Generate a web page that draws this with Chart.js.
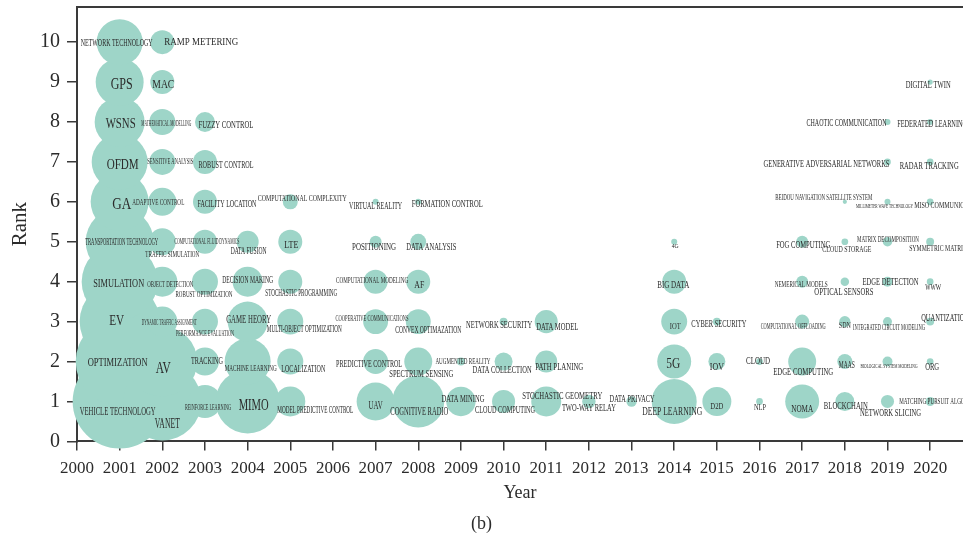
<!DOCTYPE html>
<html>
<head>
<meta charset="utf-8">
<script src="https://cdn.jsdelivr.net/npm/chart.js@4.4.1/dist/chart.umd.min.js"></script>
<style>
  html, body { margin: 0; padding: 0; background: #fff; }
  #wrap { width: 963px; height: 546px; }
</style>
</head>
<body>
<div id="wrap"><canvas id="grafica" width="963" height="546"></canvas></div>
<script>
// keyword, year, rank (1 = lowest row) and occurrence count
const keywords = [
  'VEHICLE TECHNOLOGY', 'OPTIMIZATION', 'EV', 'SIMULATION', 'TRANSPORTATION TECHNOLOGY', 'GA', 'OFDM', 'WSNS', 'GPS', 'NETWORK TECHNOLOGY',
  'VANET', 'AV', 'DYNAMIC TRAFFIC ASSIGNMENT', 'OBJECT DETECTION', 'TRAFFIC SIMULATION', 'ADAPTIVE CONTROL', 'SENSITIVE ANALYSIS', 'MATHEMATICAL MODELLING', 'MAC', 'RAMP METERING',
  'REINFORCE LEARNING', 'TRACKING', 'PERFORMANCE EVALUATION', 'ROBUST OPTIMIZATION', 'COMPUTATIONAL FLUID DYNAMICS', 'FACILITY LOCATION', 'ROBUST CONTROL', 'FUZZY CONTROL',
  'MIMO', 'MACHINE LEARNING', 'GAME HEORY', 'DECISION MAKING', 'DATA FUSION',
  'MODEL PREDICTIVE CONTROL', 'LOCALIZATION', 'MULTI-OBJECT OPTIMIZATION', 'STOCHASTIC PROGRAMMING', 'LTE', 'COMPUTATIONAL COMPLEXITY',
  'UAV', 'PREDICTIVE CONTROL', 'COOPERATIVE COMMUNICATIONS', 'COMPUTATIONAL MODELING', 'POSITIONING', 'VIRTUAL REALITY',
  'COGNITIVE RADIO', 'SPECTRUM SENSING', 'CONVEX OPTIMAZATION', 'AF', 'DATA ANALYSIS', 'FORMATION CONTROL',
  'DATA MINING', 'AUGMENTED REALITY',
  'CLOUD COMPUTING', 'DATA COLLECTION', 'NETWORK SECURITY',
  'STOCHASTIC GEOMETRY', 'PATH PLANING', 'DATA MODEL',
  'TWO-WAY RELAY',
  'DATA PRIVACY',
  'DEEP LEARNING', '5G', 'IOT', 'BIG DATA', '4G',
  'D2D', 'IOV', 'CYBER SECURITY',
  'NLP', 'CLOUD',
  'NOMA', 'EDGE COMPUTING', 'COMPUTATIONAL OFFLOADING', 'NEMERICAL MODELS', 'FOG COMPUTING',
  'BLOCKCHAIN', 'MAAS', 'SDN', 'OPTICAL SENSORS', 'CLOUD STORAGE', 'BEIDOU NAVIGATION SATELLITE SYSTEM',
  'NETWORK SLICING', 'BIOLOGICAL SYSTEM MODELING', 'INTEGRATED CIRCUIT MODELING', 'EDGE DETECTION', 'MATRIX DECOMPOSITION', 'MILLIMETER WAVE TECHNOLOGY', 'GENERATIVE ADVERSARIAL NETWORKS', 'CHAOTIC COMMUNICATION',
  'MATCHING PURSUIT ALGORITHM', 'ORG', 'QUANTIZATION', 'WWW', 'SYMMETRIC MATRIX', 'MISO COMMUNICATION', 'RADAR TRACKING', 'FEDERATED LEARNING', 'DIGITAL TWIN'
];
const years = [
  2001, 2001, 2001, 2001, 2001, 2001, 2001, 2001, 2001, 2001,
  2002, 2002, 2002, 2002, 2002, 2002, 2002, 2002, 2002, 2002,
  2003, 2003, 2003, 2003, 2003, 2003, 2003, 2003,
  2004, 2004, 2004, 2004, 2004,
  2005, 2005, 2005, 2005, 2005, 2005,
  2007, 2007, 2007, 2007, 2007, 2007,
  2008, 2008, 2008, 2008, 2008, 2008,
  2009, 2009,
  2010, 2010, 2010,
  2011, 2011, 2011,
  2012,
  2013,
  2014, 2014, 2014, 2014, 2014,
  2015, 2015, 2015,
  2016, 2016,
  2017, 2017, 2017, 2017, 2017,
  2018, 2018, 2018, 2018, 2018, 2018,
  2019, 2019, 2019, 2019, 2019, 2019, 2019, 2019,
  2020, 2020, 2020, 2020, 2020, 2020, 2020, 2020, 2020
];
const ranks = [
  1, 2, 3, 4, 5, 6, 7, 8, 9, 10,
  1, 2, 3, 4, 5, 6, 7, 8, 9, 10,
  1, 2, 3, 4, 5, 6, 7, 8,
  1, 2, 3, 4, 5,
  1, 2, 3, 4, 5, 6,
  1, 2, 3, 4, 5, 6,
  1, 2, 3, 4, 5, 6,
  1, 2,
  1, 2, 3,
  1, 2, 3,
  1,
  1,
  1, 2, 3, 4, 5,
  1, 2, 3,
  1, 2,
  1, 2, 3, 4, 5,
  1, 2, 3, 4, 5, 6,
  1, 2, 3, 4, 5, 6, 7, 8,
  1, 2, 3, 4, 5, 6, 7, 8, 9
];
const counts = [
  982, 860, 711, 642, 514, 374, 348, 278, 256, 235,
  676, 544, 100, 100, 80, 87, 75, 75, 64, 64,
  121, 87, 75, 75, 64, 64, 64, 44,
  455, 235, 178, 100, 54,
  100, 75, 75, 64, 64, 25,
  160, 69, 69, 64, 16, 4,
  300, 87, 69, 64, 28, 4,
  96, 7,
  59, 36, 7,
  100, 54, 59,
  20,
  12,
  225, 128, 75, 64, 4,
  93, 32, 7,
  5, 5,
  128, 87, 22, 16, 16,
  40, 25, 14, 8, 5, 2,
  19, 11, 9, 11, 10, 4, 5, 4,
  9, 5, 7, 5, 7, 5, 5, 4, 3
];
const yearTicks = { min: 2000, max: 2020.77, step: 1 };
const rankTicks = { min: 0, max: 10.88, step: 1 };

// label placement: [dx, dy, font size, text width] relative to bubble centre (px)
const labelLayout = {
  'NETWORK TECHNOLOGY': [-3, 0, 10.5, 72], 'GPS': [2, 2, 16, 22], 'WSNS': [1, 1, 15, 30], 'OFDM': [3, 2, 15, 32],
  'GA': [2, 2, 17, 19], 'TRANSPORTATION TECHNOLOGY': [2, 0.5, 9.5, 73], 'SIMULATION': [-1, 1, 13, 51], 'EV': [-3, -1, 14, 15],
  'OPTIMIZATION': [-2, 0, 13, 60], 'VEHICLE TECHNOLOGY': [-2, 9, 13, 76],
  'RAMP METERING': [39, -1, 10.5, 74], 'MAC': [1, 2, 12.5, 22], 'MATHEMATICAL MODELLING': [4, 2, 7.5, 50],
  'SENSITIVE ANALYSIS': [8, -1, 8, 46], 'ADAPTIVE CONTROL': [-4, 0, 9, 52], 'TRAFFIC SIMULATION': [10, 12, 9, 54],
  'OBJECT DETECTION': [8, 2, 9, 46], 'DYNAMIC TRAFFIC ASSIGNMENT': [7, 0, 9, 55], 'AV': [1, 6, 16, 15], 'VANET': [5, 22, 14, 25],
  'FUZZY CONTROL': [21, 3, 10.5, 55], 'ROBUST CONTROL': [21, 3, 10.5, 55], 'FACILITY LOCATION': [22, 2, 10.5, 59],
  'COMPUTATIONAL FLUID DYNAMICS': [2, -0.5, 8, 65], 'ROBUST OPTIMIZATION': [-1, 12, 9, 57], 'PERFORMANCE EVALUATION': [0, 11, 9, 58],
  'TRACKING': [2, -1, 9.5, 32], 'REINFORCE LEARNING': [3, 6, 8, 46],
  'DATA FUSION': [1, 8.5, 10, 36], 'DECISION MAKING': [0, -1.5, 10, 51], 'GAME HEORY': [1, -3, 12, 45],
  'MACHINE LEARNING': [3, 6, 9, 52], 'MIMO': [6, 3, 17, 30],
  'COMPUTATIONAL COMPLEXITY': [12, -3.5, 8, 89], 'LTE': [1, 2.5, 11, 14], 'STOCHASTIC PROGRAMMING': [11, 10.5, 11, 72],
  'MULTI-OBJECT OPTIMIZATION': [14, 7, 9.5, 75], 'LOCALIZATION': [13, 7, 10, 44], 'MODEL PREDICTIVE CONTROL': [25, 8, 10, 76],
  'VIRTUAL REALITY': [0, 3.5, 10, 53], 'POSITIONING': [-1.5, 4.5, 11, 44], 'COMPUTATIONAL MODELING': [-3.5, -1.5, 8, 72],
  'COOPERATIVE COMMUNICATIONS': [-3.5, -3, 8.5, 73], 'PREDICTIVE CONTROL': [-6.5, 2, 11, 66], 'UAV': [0, 4, 12, 14],
  'FORMATION CONTROL': [29, 1.5, 10, 71], 'DATA ANALYSIS': [13, 4.5, 10.5, 50], 'AF': [1, 3.5, 10, 10],
  'CONVEX OPTIMAZATION': [10, 8, 10, 66], 'SPECTRUM SENSING': [3, 12, 11, 64], 'COGNITIVE RADIO': [1, 10, 12, 58],
  'AUGMENTED REALITY': [2, 0, 8.5, 55], 'DATA MINING': [2, -3, 10.5, 43],
  'NETWORK SECURITY': [-4.5, 3, 10.5, 66], 'DATA COLLECTION': [-1.5, 8, 10.5, 59], 'CLOUD COMPUTING': [1.5, 8, 10.5, 60],
  'DATA MODEL': [11, 5, 11, 42], 'PATH PLANING': [13, 5, 11, 48], 'STOCHASTIC GEOMETRY': [16, -6, 11, 80],
  'TWO-WAY RELAY': [0, 6, 10.5, 54], 'DATA PRIVACY': [0.5, -3, 9.5, 45],
  '4G': [1, 3.5, 7, 7], 'BIG DATA': [-1, 2.5, 11, 32], 'IOT': [1, 4.5, 9, 11], '5G': [-1, 2, 14, 14], 'DEEP LEARNING': [-2, 10, 12, 60],
  'CYBER SECURITY': [2, 2, 10, 55], 'IOV': [0, 5, 11, 14], 'D2D': [0, 5, 9, 13],
  'CLOUD': [-1.5, -0.5, 10, 24], 'NLP': [0.5, 6, 9, 12],
  'FOG COMPUTING': [1, 2.5, 10, 54], 'NEMERICAL MODELS': [-1, 2.5, 8.5, 53], 'COMPUTATIONAL OFFLOADING': [-9, 4.5, 8.5, 65],
  'EDGE COMPUTING': [1, 10, 10.5, 60], 'NOMA': [0, 7, 11, 22],
  'BEIDOU NAVIGATION SATELLITE SYSTEM': [-21, -4.5, 8.5, 97], 'CLOUD STORAGE': [2, 7.5, 8, 49], 'OPTICAL SENSORS': [-1, 10.5, 10, 59],
  'SDN': [0, 3.5, 9, 12], 'MAAS': [2, 3, 10, 16], 'BLOCKCHAIN': [1, 4, 10.5, 44],
  'CHAOTIC COMMUNICATION': [-41, 1, 10, 80], 'GENERATIVE ADVERSARIAL NETWORKS': [-61, 2, 10, 126],
  'MILLIMETER WAVE TECHNOLOGY': [-3, 3.5, 7, 57], 'MATRIX DECOMPOSITION': [0.5, -2.5, 9, 62], 'EDGE DETECTION': [3, 0.5, 10, 56],
  'INTEGRATED CIRCUIT MODELING': [1.5, 5.5, 8, 72], 'BIOLOGICAL SYSTEM MODELING': [1.5, 4, 7, 57], 'NETWORK SLICING': [3, 11, 10.5, 61],
  'DIGITAL TWIN': [-2, 3, 9.5, 45], 'FEDERATED LEARNING': [2, 2, 10.5, 70], 'RADAR TRACKING': [-1, 4, 10.5, 59],
  'MISO COMMUNICATION': [18, 3, 8.5, 68], 'SYMMETRIC MATRIX': [8, 6.5, 9, 58], 'WWW': [3, 5.5, 9, 16],
  'QUANTIZATION': [15, -4, 10, 48], 'ORG': [2, 5, 9.5, 14], 'MATCHING PURSUIT ALGORITHM': [10, 0, 8.5, 82]
};

const serif = '"Liberation Serif", "DejaVu Serif", serif';
const bubbleColor = 'rgb(158, 213, 200)';
const inkColor = '#2b2b2b';
const axisColor = '#3a3a3a';

const points = keywords.map((k, i) => ({
  x: years[i],
  y: ranks[i],
  r: 1.5 * Math.sqrt(counts[i]),
  label: k
}));

// keyword labels, squeezed horizontally like the condensed type of the original
const keywordLabels = {
  id: 'keywordLabels',
  afterDraw(chart) {
    const ctx = chart.ctx;
    const xs = chart.scales.x, ys = chart.scales.y;
    const ca = chart.chartArea;

    // top frame line
    ctx.save();
    ctx.strokeStyle = axisColor;
    ctx.lineWidth = 2;
    ctx.beginPath();
    ctx.moveTo(ca.left - 1, ca.top);
    ctx.lineTo(ca.right, ca.top);
    ctx.stroke();
    ctx.restore();

    points.forEach(p => {
      const lay = labelLayout[p.label] || [0, 0, 9, 40];
      const cx = xs.getPixelForValue(p.x) + lay[0];
      const cy = ys.getPixelForValue(p.y) + lay[1];
      ctx.save();
      ctx.font = lay[2] + 'px ' + serif;
      const w = ctx.measureText(p.label).width;
      ctx.translate(cx, cy + lay[2] * 0.33);
      ctx.scale(lay[3] / w, 1);
      ctx.fillStyle = inkColor;
      ctx.textAlign = 'center';
      ctx.textBaseline = 'alphabetic';
      ctx.fillText(p.label, 0, 0);
      ctx.restore();
    });
  }
};

const graph = document.querySelector('#grafica');

const config = {
  type: 'bubble',
  data: {
    datasets: [{
      data: points,
      backgroundColor: bubbleColor,
      hoverBackgroundColor: bubbleColor,
      borderWidth: 0,
      hoverBorderWidth: 0,
      hoverRadius: 0,
      clip: false
    }]
  },
  options: {
    responsive: false,
    animation: false,
    events: [],
    layout: { autoPadding: false, padding: { top: 7, left: 0, right: 0, bottom: 0 } },
    plugins: {
      legend: { display: false },
      tooltip: { enabled: false },
      title: {
        display: true,
        position: 'bottom',
        text: '(b)',
        color: inkColor,
        font: { family: serif, size: 18, weight: 'normal' },
        padding: { top: 2, bottom: 11 }
      }
    },
    scales: {
      x: {
        type: 'linear',
        min: yearTicks.min,
        max: yearTicks.max,
        z: 1,
        ticks: {
          stepSize: yearTicks.step,
          includeBounds: false,
          autoSkip: false,
          maxRotation: 0,
          padding: 8,
          color: inkColor,
          font: { family: serif, size: 17 },
          callback: v => String(v)
        },
        grid: { drawOnChartArea: false, drawTicks: true, tickLength: 9, color: axisColor, lineWidth: 1.5 },
        border: { display: true, color: axisColor, width: 2 },
        title: {
          display: true,
          text: 'Year',
          color: inkColor,
          font: { family: serif, size: 18 },
          padding: { top: 0, bottom: 7 }
        },
        afterFit: s => { s.height = 70; s.paddingRight = 0; }
      },
      y: {
        type: 'linear',
        min: rankTicks.min,
        max: rankTicks.max,
        z: 1,
        ticks: {
          stepSize: rankTicks.step,
          includeBounds: false,
          padding: 7,
          color: inkColor,
          font: { family: serif, size: 20 },
          callback: v => String(v)
        },
        grid: { drawOnChartArea: false, drawTicks: true, tickLength: 10, color: axisColor, lineWidth: 1.5 },
        border: { display: true, color: axisColor, width: 2 },
        title: {
          display: true,
          text: 'Rank',
          color: inkColor,
          font: { family: serif, size: 21 },
          padding: { top: 8, bottom: 0 }
        },
        afterFit: s => { s.width = 77; s.paddingTop = 0; s.paddingBottom = 0; }
      }
    }
  },
  plugins: [keywordLabels]
};

new Chart(graph, config);
</script>
</body>
</html>
